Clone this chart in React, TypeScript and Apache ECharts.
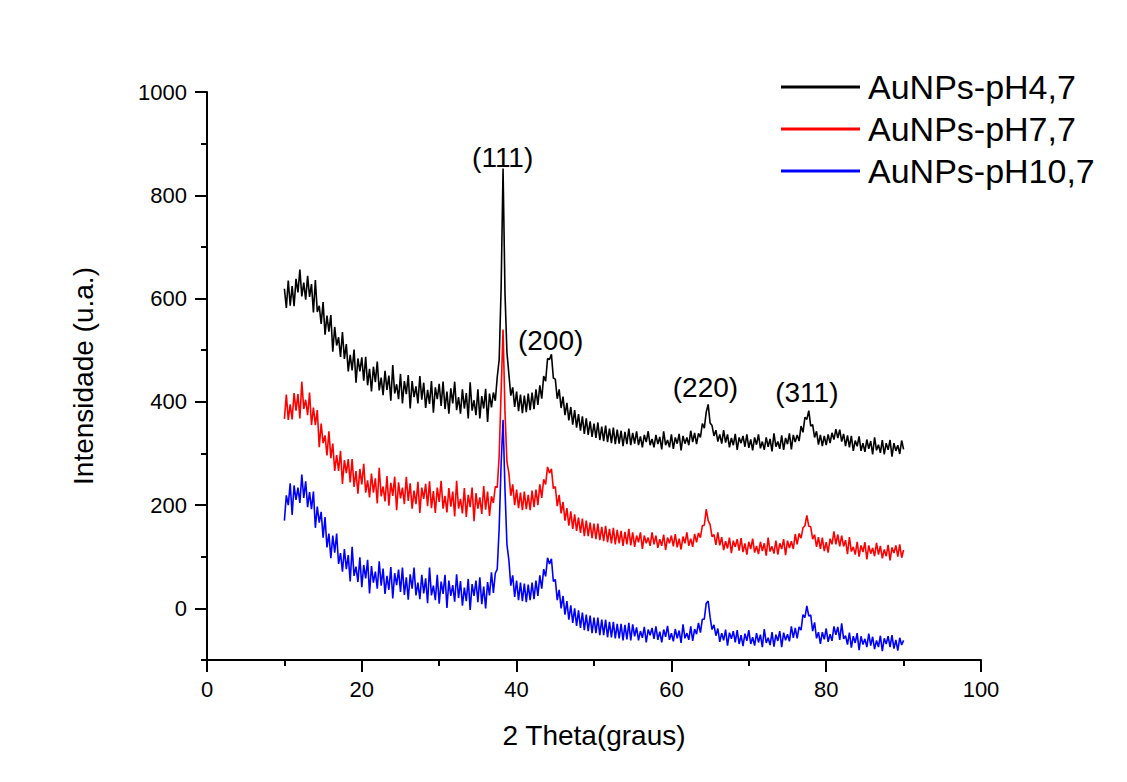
import React, { useEffect, useRef } from 'react';
import * as echarts from 'echarts';

const FONT = "'Liberation Sans', Arial, sans-serif";

const THETA_START = 10;
const THETA_STEP = 0.25;

const SERIES_NAMES = ['AuNPs-pH4,7', 'AuNPs-pH7,7', 'AuNPs-pH10,7'];
const SERIES_COLORS = ['#000000', '#ff0000', '#0000ff'];

// intensity, every 0.25 degree from 10 to 90
const PH47 = [
  619, 582, 635, 586, 624, 585, 638, 612,
  656, 604, 631, 598, 644, 603, 628, 573,
  636, 574, 586, 551, 593, 530, 567, 536,
  568, 497, 545, 509, 525, 487, 535, 483,
  512, 459, 491, 461, 501, 437, 484, 459,
  486, 441, 487, 432, 464, 420, 468, 438,
  478, 422, 447, 413, 460, 423, 451, 402,
  471, 416, 434, 405, 454, 397, 440, 415,
  452, 387, 440, 409, 430, 397, 450, 404,
  437, 388, 423, 396, 440, 379, 428, 405,
  435, 392, 439, 386, 420, 377, 426, 397,
  439, 384, 409, 377, 424, 387, 417, 368,
  438, 383, 403, 374, 424, 368, 411, 387,
  425, 361, 416, 389, 418, 402, 448, 482,
  620, 852, 610, 496, 454, 412, 428, 390,
  420, 382, 414, 378, 412, 380, 416, 384,
  418, 386, 424, 394, 432, 406, 450, 440,
  484, 482, 492, 446, 444, 406, 424, 388,
  410, 374, 398, 364, 390, 356, 384, 350,
  376, 344, 372, 338, 368, 336, 362, 332,
  358, 330, 360, 326, 352, 324, 354, 322,
  348, 320, 350, 318, 346, 319, 344, 314,
  342, 318, 348, 316, 340, 319, 343, 316,
  333, 312, 336, 322, 343, 316, 328, 312,
  336, 318, 332, 308, 343, 316, 326, 312,
  337, 309, 331, 319, 338, 306, 334, 319,
  331, 316, 344, 322, 340, 318, 339, 331,
  358, 349, 380, 395, 359, 354, 334, 345,
  323, 337, 319, 345, 321, 337, 312, 330,
  316, 338, 307, 331, 320, 334, 313, 337,
  311, 327, 306, 331, 317, 337, 310, 323,
  307, 331, 313, 328, 304, 339, 313, 323,
  309, 335, 307, 330, 318, 339, 308, 336,
  322, 336, 324, 353, 341, 370, 366, 383,
  353, 356, 331, 343, 317, 336, 314, 334,
  316, 337, 320, 340, 327, 347, 330, 346,
  323, 338, 314, 335, 312, 334, 305, 325,
  314, 333, 305, 320, 303, 327, 309, 324,
  298, 331, 306, 317, 301, 326, 298, 320,
  307, 326, 294, 320, 305, 316, 299, 325,
  308,
];

const PH77 = [
  367, 414, 365, 395, 366, 417, 383, 415,
  368, 439, 386, 404, 374, 418, 355, 389,
  355, 384, 312, 358, 320, 335, 296, 343,
  291, 319, 266, 297, 266, 305, 241, 287,
  262, 289, 244, 289, 235, 266, 222, 270,
  240, 280, 224, 248, 215, 261, 224, 252,
  203, 272, 217, 236, 207, 256, 199, 243,
  218, 255, 190, 244, 213, 234, 202, 255,
  208, 242, 193, 228, 202, 245, 185, 234,
  212, 241, 198, 246, 194, 227, 185, 234,
  206, 247, 193, 218, 186, 233, 197, 226,
  178, 247, 193, 212, 184, 233, 177, 220,
  196, 234, 169, 223, 193, 215, 183, 237,
  191, 226, 179, 217, 204, 236, 234, 296,
  420, 540, 380, 284, 262, 218, 240, 200,
  230, 194, 224, 190, 226, 192, 220, 190,
  228, 196, 230, 200, 240, 214, 250, 240,
  274, 262, 270, 232, 236, 198, 220, 184,
  206, 170, 194, 160, 188, 154, 182, 150,
  176, 146, 174, 140, 170, 140, 166, 136,
  164, 134, 164, 132, 158, 130, 160, 128,
  154, 126, 156, 124, 152, 126, 150, 121,
  148, 124, 154, 122, 147, 119, 141, 128,
  147, 115, 141, 126, 137, 121, 147, 124,
  141, 117, 134, 121, 143, 113, 137, 126,
  141, 120, 144, 118, 135, 114, 139, 126,
  147, 121, 135, 119, 144, 128, 146, 137,
  160, 161, 192, 170, 162, 139, 143, 123,
  147, 122, 138, 113, 130, 116, 137, 107,
  131, 119, 134, 112, 136, 109, 126, 104,
  129, 115, 135, 108, 121, 105, 129, 111,
  126, 102, 137, 110, 120, 106, 131, 104,
  126, 115, 134, 103, 131, 117, 130, 115,
  144, 124, 145, 136, 156, 160, 180, 159,
  158, 134, 143, 119, 138, 115, 137, 111,
  128, 108, 135, 124, 149, 124, 143, 120,
  141, 120, 132, 105, 138, 110, 119, 104,
  129, 100, 122, 109, 128, 95, 122, 106,
  117, 101, 127, 104, 121, 97, 114, 101,
  123, 93, 118, 107, 122, 100, 124, 98,
  113,
];

const PH107 = [
  170, 219, 200, 242, 181, 238, 210, 234,
  204, 259, 214, 246, 196, 225, 192, 226,
  156, 197, 166, 187, 137, 177, 118, 145,
  97, 141, 108, 145, 86, 107, 71, 115,
  76, 103, 52, 119, 63, 81, 51, 99,
  41, 84, 58, 94, 29, 82, 50, 71,
  38, 91, 44, 77, 28, 63, 36, 80,
  19, 68, 45, 75, 32, 79, 26, 60,
  17, 66, 38, 79, 25, 50, 18, 65,
  29, 58, 10, 79, 25, 44, 16, 65,
  9, 52, 28, 65, 1, 54, 24, 45,
  13, 66, 20, 53, 5, 40, 14, 57,
  -3, 47, 24, 54, 12, 60, 8, 42,
  0, 51, 25, 70, 30, 68, 76, 156,
  280, 365, 230, 124, 94, 44, 64, 22,
  54, 16, 50, 14, 48, 12, 46, 16,
  50, 18, 54, 24, 64, 38, 76, 62,
  98, 86, 96, 52, 56, 16, 36, 0,
  24, -12, 14, -22, 6, -28, 0, -34,
  -4, -38, -8, -42, -12, -44, -14, -48,
  -18, -48, -18, -52, -22, -52, -22, -56,
  -26, -56, -26, -58, -30, -58, -30, -62,
  -32, -60, -28, -62, -31, -54, -37, -62,
  -44, -57, -36, -66, -41, -52, -38, -59,
  -35, -61, -45, -66, -41, -55, -34, -61,
  -48, -64, -40, -58, -43, -67, -31, -58,
  -48, -61, -35, -63, -40, -50, -28, -47,
  -21, -21, 10, 14, -17, -41, -32, -53,
  -39, -65, -48, -62, -41, -72, -47, -59,
  -44, -66, -42, -69, -52, -73, -49, -63,
  -42, -69, -56, -72, -48, -66, -51, -75,
  -40, -67, -57, -71, -46, -74, -51, -63,
  -44, -75, -47, -62, -50, -64, -35, -57,
  -38, -58, -36, -42, -12, -18, 5, -15,
  -13, -44, -27, -58, -46, -69, -46, -60,
  -39, -65, -50, -63, -35, -51, -36, -61,
  -29, -59, -53, -70, -47, -76, -54, -67,
  -48, -81, -54, -70, -59, -75, -49, -72,
  -55, -79, -62, -75, -53, -83, -58, -69,
  -54, -75, -52, -78, -61, -82, -57, -71,
  -62,
];

const PEAK_LABELS = ['(111)', '(200)', '(220)', '(311)'];
const PEAK_THETA = [38.2, 44.4, 64.4, 77.5];
const PEAK_LABEL_Y = [874, 519, 428, 419];

const Y_MAJOR = [0, 200, 400, 600, 800, 1000];

function toPairs(vals: number[]) {
  return vals.map((v, i) => [THETA_START + i * THETA_STEP, v]);
}

export default function App() {
  const ref = useRef<HTMLDivElement>(null);

  useEffect(() => {
    document.body.style.margin = '0';
    if (!ref.current) return;
    const chart = echarts.init(ref.current, undefined, { renderer: 'svg' });
    const axisLineStyle = { color: '#000', width: 2 };
    const data = [PH47, PH77, PH107];
    chart.setOption({
      animation: false,
      backgroundColor: '#ffffff',
      textStyle: { fontFamily: FONT },
      grid: { left: 207, right: 146, top: 92, bottom: 122, containLabel: false },
      legend: {
        orient: 'vertical',
        left: 781,
        top: 66,
        padding: 0,
        itemWidth: 79,
        itemHeight: 3,
        itemGap: 0,
        icon: 'rect',
        textStyle: { fontSize: 34, color: '#000', lineHeight: 42, padding: [0, 0, 0, 3], fontFamily: FONT },
        data: SERIES_NAMES,
      },
      xAxis: {
        type: 'value',
        min: 0,
        max: 100,
        interval: 20,
        axisLine: { show: true, onZero: false, lineStyle: axisLineStyle },
        axisTick: { show: true, length: 12, lineStyle: axisLineStyle },
        minorTick: { show: true, splitNumber: 2, length: 6, lineStyle: axisLineStyle },
        axisLabel: { fontSize: 22, color: '#000', margin: 18, fontFamily: FONT },
        splitLine: { show: false },
        minorSplitLine: { show: false },
        name: '2 Theta(graus)',
        nameLocation: 'middle',
        nameGap: 61,
        nameTextStyle: { fontSize: 28, color: '#000', fontFamily: FONT },
      },
      yAxis: [
        {
          type: 'value',
          min: -100,
          max: 1000,
          interval: 100,
          axisLine: { show: true, onZero: false, lineStyle: axisLineStyle },
          axisTick: { show: true, length: 6, lineStyle: axisLineStyle },
          axisLabel: {
            fontSize: 22,
            color: '#000',
            margin: 20,
            fontFamily: FONT,
            formatter: (v: number) => (Y_MAJOR.indexOf(v) >= 0 ? String(v) : ''),
          },
          splitLine: { show: false },
          name: 'Intensidade (u.a.)',
          nameLocation: 'middle',
          nameGap: 110,
          nameTextStyle: { fontSize: 28, color: '#000', fontFamily: FONT },
        },
        {
          type: 'value',
          min: -100,
          max: 1000,
          interval: 100,
          position: 'left',
          axisLine: { show: false },
          axisTick: { show: true, length: 12, customValues: Y_MAJOR, lineStyle: axisLineStyle },
          axisLabel: { show: false },
          splitLine: { show: false },
        },
      ],
      series: SERIES_NAMES.map((name, k) => ({
        name,
        type: 'line',
        yAxisIndex: 0,
        data: toPairs(data[k]),
        showSymbol: false,
        symbol: 'none',
        lineStyle: { color: SERIES_COLORS[k], width: 1.6 },
        itemStyle: { color: SERIES_COLORS[k] },
        z: 2 + k,
        markPoint:
          k === 0
            ? {
                symbol: 'circle',
                symbolSize: 1,
                silent: true,
                itemStyle: { color: 'rgba(0,0,0,0)' },
                label: {
                  show: true,
                  position: 'inside',
                  formatter: '{b}',
                  fontSize: 28,
                  color: '#000',
                  fontFamily: FONT,
                },
                data: PEAK_LABELS.map((lab, i) => ({ name: lab, coord: [PEAK_THETA[i], PEAK_LABEL_Y[i]] })),
              }
            : undefined,
      })),
    });
    return () => chart.dispose();
  }, []);

  return <div ref={ref} style={{ width: 1127, height: 782 }} />;
}
